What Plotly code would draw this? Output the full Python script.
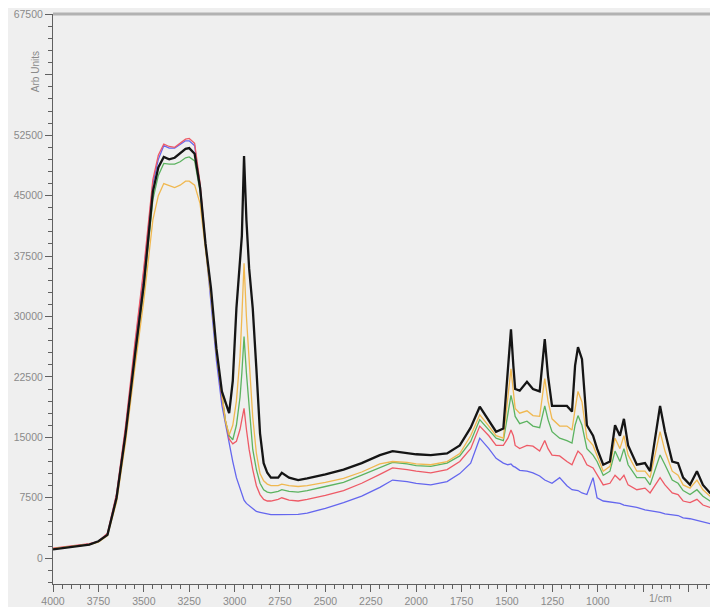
import plotly.graph_objects as go

wavenumber = [4000, 3900, 3800, 3750, 3700, 3650, 3600, 3550, 3500, 3450, 3420, 3390, 3360, 3330,
              3300, 3270, 3250, 3220, 3190, 3160, 3130, 3100, 3070, 3050, 3030, 3010, 2990, 2970,
              2960, 2948, 2935, 2920, 2900, 2880, 2860, 2840, 2820, 2800, 2760, 2740, 2700, 2650,
              2600, 2500, 2400, 2300, 2200, 2130, 2050, 2000, 1920, 1830, 1760, 1700, 1650, 1600,
              1560, 1520, 1495, 1478, 1465, 1455, 1430, 1390, 1357, 1320, 1292, 1274, 1252, 1210,
              1170, 1142, 1125, 1109, 1087, 1060, 1026, 1004, 970, 933, 905, 878, 856, 833, 785,
              740, 712, 657, 630, 590, 558, 530, 492, 454, 421, 382, 338]

black = [1100, 1400, 1700, 2100, 2900, 7500, 15500, 25000, 34000, 45500, 48500, 49800, 49500, 49700,
         50200, 50800, 50900, 50200, 46000, 39000, 33500, 26000, 20700, 19200, 18000, 22000, 31000, 37000,
         40000, 49900, 42000, 36000, 31000, 23500, 15500, 11800, 10600, 10000, 10000, 10600, 10000, 9700,
         9900, 10400, 11000, 11800, 12800, 13300, 13000, 12900, 12800, 13000, 14000, 16200, 18800, 17000,
         15700, 16100, 24000, 28400, 23900, 21000, 20800, 21900, 21000, 20700, 27200, 22600, 18900, 18900,
         18900, 18200, 23900, 26200, 24700, 16500, 15200, 13600, 11600, 12000, 16500, 15200, 17300, 14000, 11600,
         11800, 10800, 18900, 15700, 12000, 11800, 10000, 9100, 10800, 9100, 8100, 7500]

orange = [1200, 1450, 1700, 2000, 2800, 7000, 14500, 23500, 32000, 42000, 45000, 46500, 46200, 46000,
          46300, 46800, 46800, 46300, 44000, 38000, 32500, 25500, 20000, 17000, 15300, 16500, 19500, 25000,
          30000, 36600, 30000, 24000, 17500, 13000, 10500, 9600, 9200, 9000, 9000, 9200, 9000, 8900,
          9000, 9400, 9900, 10700, 11700, 12000, 11900, 11700, 11600, 12000, 13000, 15200, 17800, 16400,
          15200, 14900, 19800, 23500, 20700, 18600, 18000, 18300, 17700, 17600, 22300, 19500, 17300, 16400,
          16400, 15900, 18500, 20700, 19400, 14900, 14000, 12800, 10800, 11400, 14900, 13600, 15200, 12800, 10800,
          10800, 10000, 15700, 13300, 10800, 10300, 9100, 8700, 9700, 8500, 7700, 7300]

green = [1150, 1400, 1700, 2050, 2900, 7300, 15200, 24500, 33500, 44500, 47500, 49000, 48900, 48900,
         49200, 49700, 49800, 49300, 45500, 38800, 33000, 25500, 20000, 17000, 15200, 14700, 16500, 20000,
         23000, 27500, 23000, 18500, 13500, 11000, 9300, 8500, 8200, 8100, 8300, 8500, 8300, 8200,
         8400, 8900, 9400, 10300, 11300, 11900, 11700, 11500, 11400, 11800, 12700, 14500, 17200, 15900,
         14900, 14600, 18200, 20200, 18900, 17600, 16700, 17000, 16400, 16200, 18900, 17200, 15700, 14900,
         14600, 14300, 16500, 17700, 16500, 13600, 12800, 12000, 10300, 10800, 13300, 12000, 13600, 11600, 10000,
         10000, 9100, 12800, 11600, 9700, 9300, 8400, 7900, 8500, 7700, 7100, 6600]

red = [1250, 1500, 1800, 2100, 3100, 8000, 16500, 26500, 36000, 47000, 50000, 51400, 51100, 51000,
       51500, 52000, 52100, 51500, 46500, 39000, 33000, 25500, 20000, 17000, 14800, 14200, 14500, 16000,
       17200, 18600, 16000, 13500, 11000, 9000, 7900, 7300, 7100, 7100, 7300, 7500, 7200, 7100,
       7300, 7800, 8400, 9300, 10400, 11200, 11000, 10800, 10600, 11000, 12000, 13600, 16400, 15200,
       14000, 14000, 14900, 15900, 15200, 14000, 13600, 14000, 13900, 13300, 14600, 13600, 12800, 12700,
       12000, 11600, 12500, 13300, 12800, 11600, 11200, 10300, 9100, 9300, 10300, 9700, 10300, 9100, 8500,
       8700, 8100, 10000, 9100, 8100, 7900, 7100, 6900, 7300, 6600, 6300, 5900]

blue = [1200, 1450, 1750, 2100, 3000, 7800, 16000, 26000, 35500, 46500, 49500, 51200, 50900, 50900,
        51300, 51800, 51800, 51200, 46000, 38500, 32000, 24500, 19000, 16500, 14300, 12000, 10000, 8600,
        8000, 7200, 6800, 6500, 6100, 5800, 5700, 5600, 5500, 5400, 5400, 5400, 5400, 5450,
        5600, 6200, 6900, 7700, 8800, 9700, 9500, 9300, 9100, 9500, 10500, 11800, 14900, 13600,
        12400, 11800, 11600, 11700, 11400, 11300, 10900, 10800, 10600, 10200, 9700, 9500, 9300, 10000,
        9000, 8500, 8450, 8400, 8100, 7900, 10000, 7500, 7100, 7000, 6900, 6800, 6600, 6500, 6300,
        6000, 5900, 5700, 5500, 5400, 5300, 5000, 4900, 4700, 4500, 4300, 4100]

y_ticks = [0, 7500, 15000, 22500, 30000, 37500, 45000, 52500, 60000, 67500]
y_labels = ["0", "7500", "15000", "22500", "30000", "37500", "45000", "52500", "", "67500"]
x_ticks = [4000, 3750, 3500, 3250, 3000, 2750, 2500, 2250, 2000, 1750, 1500, 1250, 1000, 750, 500]
x_labels = ["4000", "3750", "3500", "3250", "3000", "2750", "2500", "2250", "2000", "1750",
            "1500", "1250", "1000", "", ""]

series = [("blue", blue, "#6466ee", 1.3), ("red", red, "#ee5a66", 1.3),
          ("green", green, "#5cb360", 1.3), ("orange", orange, "#f0b850", 1.3),
          ("black", black, "#151515", 2.3)]

fig = go.Figure()
for name, vals, col, w in series:
    fig.add_trace(go.Scatter(x=wavenumber, y=vals, mode="lines", name=name,
                             line=dict(color=col, width=w), showlegend=False))

bg = "#efefef"
axcol = "#606060"
tickfont = dict(family="Liberation Sans, Arial, sans-serif", size=10.5, color="#8a8a8a")

fig.update_layout(
    width=710, height=599,
    margin=dict(l=45, r=0, t=3, b=20),
    paper_bgcolor=bg, plot_bgcolor=bg,
    xaxis=dict(range=[4000, 338], tickmode="array", tickvals=x_ticks, ticktext=x_labels,
               showgrid=False, zeroline=False, showline=True, linecolor=axcol, linewidth=1,
               ticks="outside", ticklen=7, tickcolor=axcol, tickfont=tickfont,
               minor=dict(tickmode="linear", tick0=0, dtick=50, ticks="outside", ticklen=4,
                          tickcolor=axcol, showgrid=False)),
    yaxis=dict(range=[-3200, 67540], tickmode="array", tickvals=y_ticks, ticktext=y_labels,
               showgrid=False, zeroline=False, showline=True, linecolor=axcol, linewidth=1,
               ticks="outside", ticklen=7, tickcolor=axcol, tickfont=tickfont,
               ticklabeloverflow="allow",
               minor=dict(tickmode="linear", tick0=0, dtick=1500, ticks="outside", ticklen=4,
                          tickcolor=axcol, showgrid=False)),
    shapes=[
        dict(type="line", xref="paper", yref="paper", x0=0, x1=1, y0=1.0, y1=1.0,
             line=dict(color="#b2b2b2", width=3), layer="above"),
    ],
    annotations=[
        dict(text="Arb Units", xref="paper", yref="paper", x=-0.027, y=0.898, textangle=-90,
             xanchor="center", yanchor="middle", showarrow=False,
             font=dict(family="Liberation Sans, Arial, sans-serif", size=10, color="#8a8a8a")),
        dict(text="1/cm", xref="paper", yref="paper", x=0.914, y=-0.0245,
             xanchor="center", yanchor="middle", showarrow=False,
             font=dict(family="Liberation Sans, Arial, sans-serif", size=10.5, color="#8a8a8a")),
    ],
)

fig.write_html("out.html")
